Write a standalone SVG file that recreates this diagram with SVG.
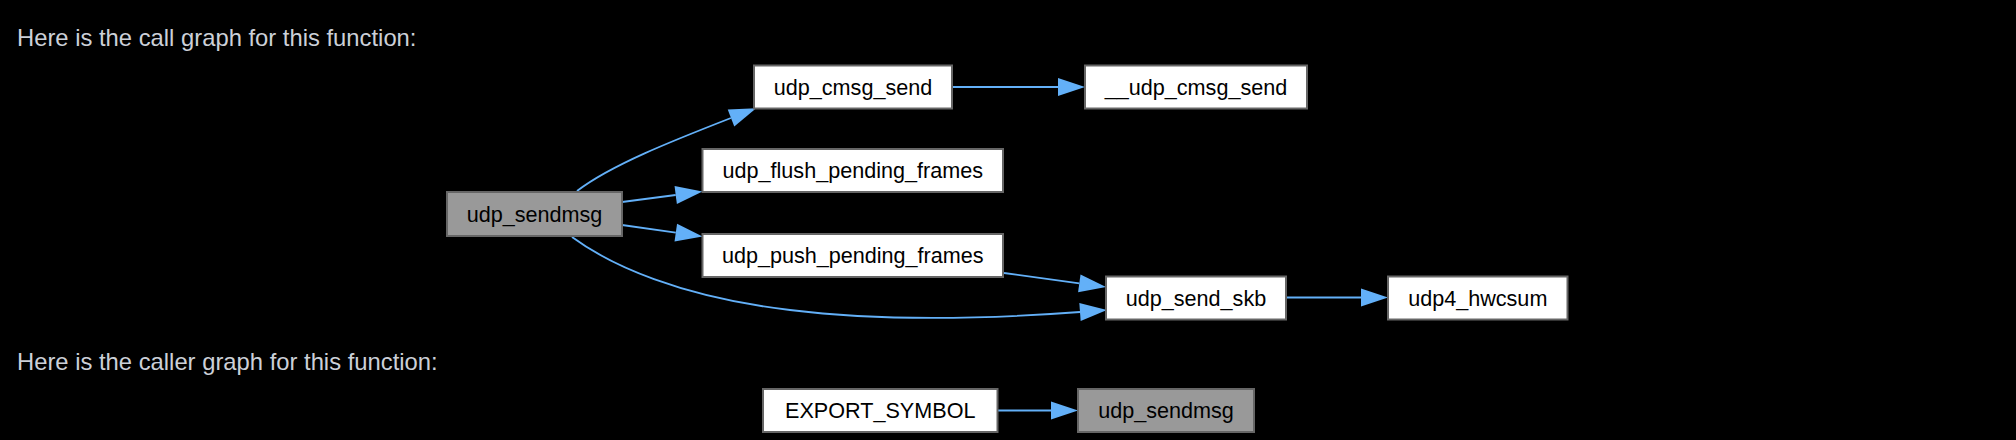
<svg xmlns="http://www.w3.org/2000/svg" width="2016" height="440" viewBox="0 0 2016 440">
<style>
.title{font-family:"Liberation Sans",Arial,sans-serif;font-size:23.8px;fill:#ccd0d8}
.node rect{fill:#ffffff;stroke:#666666;stroke-width:2}
.node.cur rect{fill:#999999}
.node text{font-family:"Liberation Sans",Arial,sans-serif;font-size:21.6px;fill:#000000;text-anchor:middle}
.edge{fill:none;stroke:#63b0f8;stroke-width:1.8;marker-end:url(#ah)}
</style>
<defs>
<marker id="ah" markerUnits="userSpaceOnUse" markerWidth="30" markerHeight="20" refX="0" refY="9" orient="auto" overflow="visible">
<path d="M0,0 L27,9 L0,18 z" fill="#63b0f8"/>
</marker>
</defs>
<rect x="0" y="0" width="2016" height="440" fill="#000000"/>
<text class="title" x="17" y="46">Here is the call graph for this function:</text>
<text class="title" x="17" y="370">Here is the caller graph for this function:</text>
<g id="connectors">
<path class="edge" d="M577,191 C611,165 672,141 731,118"/>
<path class="edge" d="M622,202 L675.7,195"/>
<path class="edge" d="M622,225 L675.8,232.7"/>
<path class="edge" d="M572,237 C610,265 680,297 790,310 C870,320 960,321 1080,312"/>
<path class="edge" d="M1004,273 L1079.3,283.3"/>
<path class="edge" d="M952,87 L1058,87"/>
<path class="edge" d="M1286,297.5 L1361,297.5"/>
<path class="edge" d="M997.5,410.5 L1051,410.5"/>
</g>
<g id="node-udp_cmsg_send" class="node"><rect x="754" y="65.5" width="198" height="43"/><text x="853" y="94.7">udp_cmsg_send</text></g>
<g id="node-__udp_cmsg_send" class="node"><rect x="1085" y="65.5" width="222" height="43"/><text x="1196" y="94.7">__udp_cmsg_send</text></g>
<g id="node-udp_flush_pending_frames" class="node"><rect x="702.5" y="149" width="300.5" height="43"/><text x="852.75" y="178.2">udp_flush_pending_frames</text></g>
<g id="node-udp_sendmsg" class="node cur"><rect x="447" y="192" width="175" height="44"/><text x="534.5" y="221.7">udp_sendmsg</text></g>
<g id="node-udp_push_pending_frames" class="node"><rect x="702.5" y="234" width="300.5" height="43"/><text x="852.75" y="263.2">udp_push_pending_frames</text></g>
<g id="node-udp_send_skb" class="node"><rect x="1106" y="276.5" width="180" height="43"/><text x="1196" y="305.7">udp_send_skb</text></g>
<g id="node-udp4_hwcsum" class="node"><rect x="1388" y="276.5" width="179.5" height="43"/><text x="1477.75" y="305.7">udp4_hwcsum</text></g>
<g id="node-EXPORT_SYMBOL" class="node"><rect x="763" y="389" width="234.5" height="43"/><text x="880.25" y="418.2">EXPORT_SYMBOL</text></g>
<g id="node-udp_sendmsg-caller" class="node cur"><rect x="1078" y="389" width="176" height="43"/><text x="1166" y="418.2">udp_sendmsg</text></g>
</svg>
